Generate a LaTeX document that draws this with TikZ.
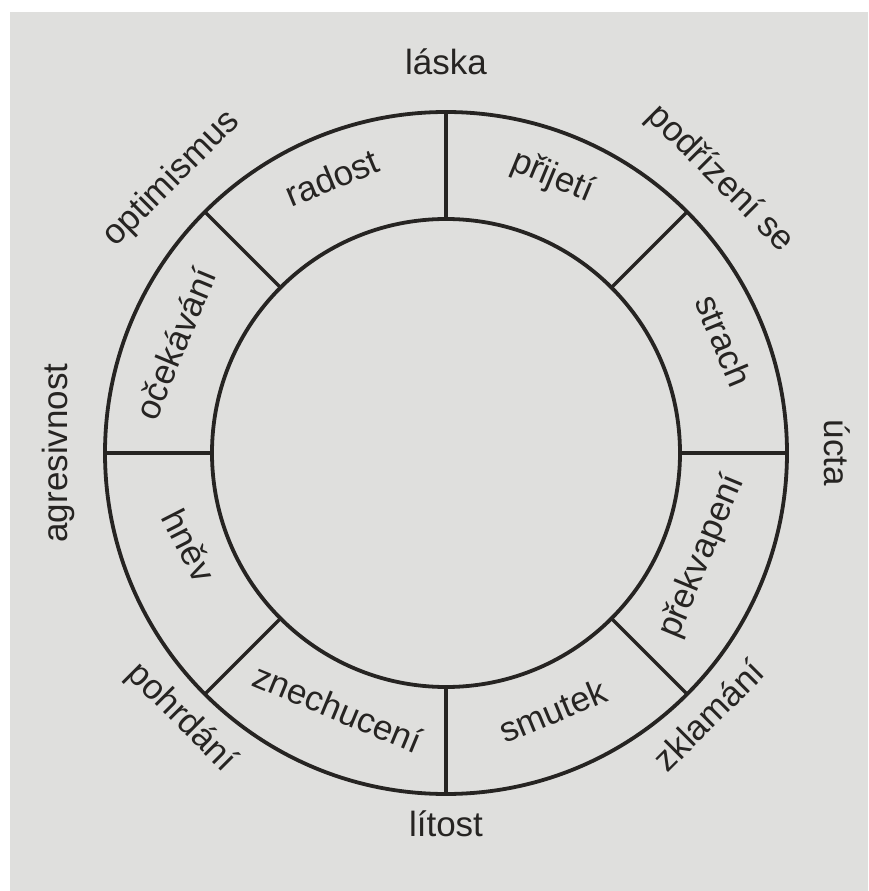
\documentclass[tikz,border=0pt]{standalone}
\usepackage{fontspec}
\setmainfont{Liberation Sans}
\definecolor{paper}{RGB}{223,223,221}
\definecolor{ink}{RGB}{38,36,34}
\begin{document}
\begin{tikzpicture}[x=1pt,y=1pt,
  ring/.style={line width=3.8pt, draw=ink},
  divider/.style={line width=3.4pt, draw=ink},
  lab/.style={font=\fontsize{35}{40}\selectfont, text=ink, inner sep=0pt,
              text height=0.72em, text depth=0.21em, anchor=center}]
\useasboundingbox (-446,-438) rectangle (422,453);
\fill[white] (-446,-438) rectangle (422,453);
\fill[paper] (-436,-438) rectangle (422,441);
% circles
\draw[ring] (0,0) circle (341);
\draw[ring] (0,0) circle (234);
% dividers
\foreach \a in {0,45,...,315}
  \draw[divider] (\a:234) -- (\a:341);
% ring labels (upper half: rotate a-90, lower half: rotate a+90)
\node[lab, rotate=22.5]  (radost)   at (112.5:288) {radost};
\node[lab, rotate=-22.5] (prijeti)  at (69:289)    {přijetí};
\node[lab, rotate=-67.5] (strach)   at (22:290)    {strach};
\node[lab, rotate=67.5]  (prekv)    at (-22:283)   {překvapení};
\node[lab, rotate=22.5]  (smutek)   at (-67.5:289) {smutek};
\node[lab, rotate=-22.5] (znech)    at (-113:287)  {znechucení};
\node[lab, rotate=-63]   (hnev)     at (-160:283)  {hněv};
\node[lab, rotate=67.5]  (ocek)     at (158:282)   {očekávání};
% outer labels
\node[lab]               (laska)    at (90:381)   {láska};
\node[lab, rotate=-45]   (podrizeni) at (45:381)  {podřízení se};
\node[lab, rotate=-90]   (ucta)     at (0:381)    {úcta};
\node[lab, rotate=45]    (zklamani) at (-45:381)  {zklamání};
\node[lab]               (litost)   at (-90:381)  {lítost};
\node[lab, rotate=-45]   (pohrdani) at (-135:381) {pohrdání};
\node[lab, rotate=90]    (agres)    at (180:381)  {agresivnost};
\node[lab, rotate=45]    (optim)    at (135:381)  {optimismus};
\end{tikzpicture}
\end{document}
